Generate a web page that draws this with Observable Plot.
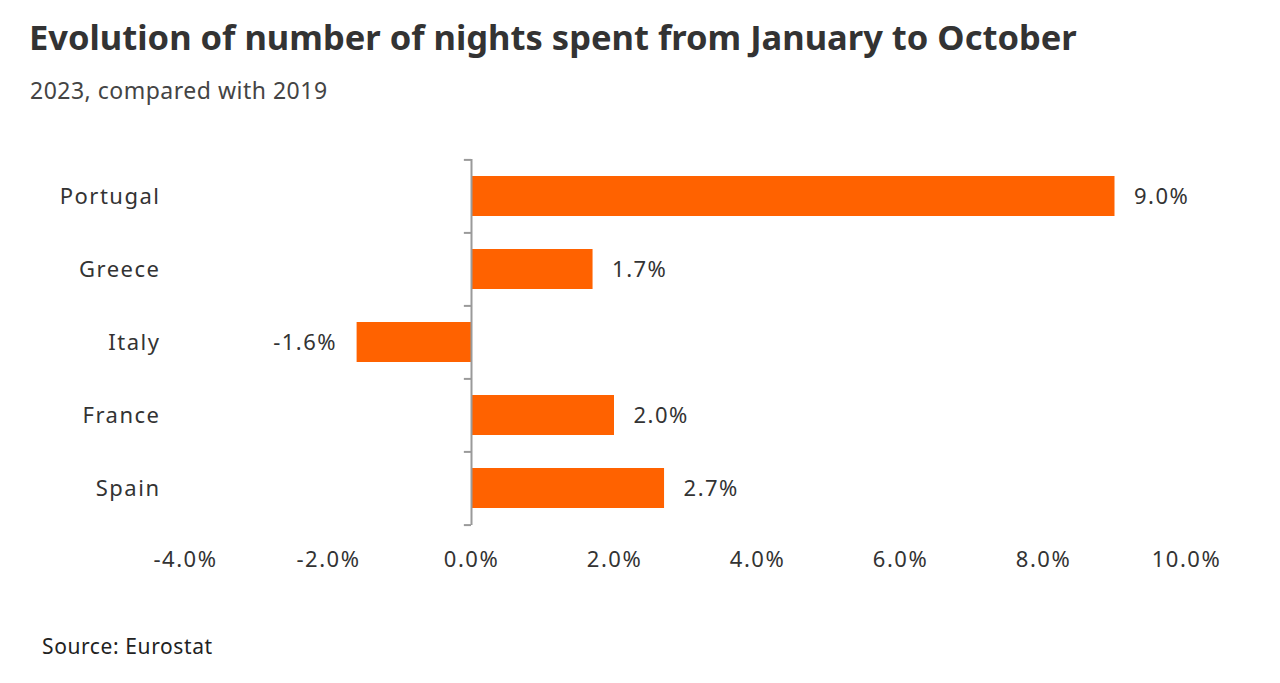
<!DOCTYPE html>
<html>
<head>
<meta charset="utf-8">
<script src="https://cdn.jsdelivr.net/npm/d3@7"></script>
<script src="https://cdn.jsdelivr.net/npm/@observablehq/plot@0.6"></script>
<style>
  html, body { margin: 0; padding: 0; background: #fff; }
  body { width: 1280px; height: 683px; position: relative; overflow: hidden; font-family: "Noto Sans", sans-serif; color: #333; }
  #title { position: absolute; left: 29px; top: 13px; font-size: 34.5px; font-weight: bold; color: #333; white-space: nowrap; }
  #subtitle { position: absolute; left: 30px; top: 74px; font-size: 23px; letter-spacing: 0.5px; color: #444; white-space: nowrap; }
  #chart { position: absolute; left: 0; top: 131px; }
  #source { position: absolute; left: 42px; top: 632px; font-size: 21px; letter-spacing: 0.6px; color: #222; white-space: nowrap; }
  #chart svg { letter-spacing: 1.5px; }
</style>
</head>
<body>
<div id="title">Evolution of number of nights spent from January to October</div>
<div id="subtitle">2023, compared with 2019</div>
<div id="chart"></div>
<div id="source">Source: Eurostat</div>
<script>
const countries = ["Portugal", "Greece", "Italy", "France", "Spain"];
const values = [9.0, 1.7, -1.6, 2.0, 2.7];
const xTicks = [-4, -2, 0, 2, 4, 6, 8, 10];

const data = countries.map((c, i) => ({country: c, value: values[i]}));
const fmt = v => v.toFixed(1) + "%";
const step = 366 / 5;

const chart = Plot.plot({
  width: 1280,
  height: 460,
  marginLeft: 185,
  marginRight: 94,
  marginTop: 28,
  marginBottom: 66,
  style: {fontFamily: "Noto Sans, sans-serif", fontSize: "22px", color: "#333", background: "#fff"},
  x: {domain: [-4, 10], label: null},
  y: {domain: countries, paddingInner: 0.45, paddingOuter: 0.225, label: null},
  marks: [
    Plot.barX(data, {x: "value", y: "country", fill: "#FF6200"}),
    Plot.ruleX([0], {stroke: "#9a9a9a", strokeWidth: 2}),
    Plot.ruleY(countries, {y: d => d, x1: -0.1, x2: 0, dy: -step / 2, stroke: "#9a9a9a", strokeWidth: 2}),
    Plot.ruleY([countries[countries.length - 1]], {y: d => d, x1: -0.1, x2: 0, dy: step / 2, stroke: "#9a9a9a", strokeWidth: 2}),
    Plot.text(data, {
      x: "value", y: "country", text: d => fmt(d.value),
      textAnchor: "start",
      filter: d => d.value >= 0,
      dx: 19, fill: "#333", fontSize: 22
    }),
    Plot.text(data, {
      x: "value", y: "country", text: d => fmt(d.value),
      textAnchor: "end",
      filter: d => d.value < 0,
      dx: -20, fill: "#333", fontSize: 22
    }),
    Plot.axisX({ticks: xTicks, tickFormat: fmt, tickSize: 0, tickPadding: 26, fontSize: 22, color: "#333", label: null}),
    Plot.axisY({tickSize: 0, tickPadding: 25, fontSize: 22, color: "#333", label: null})
  ]
});
document.getElementById("chart").appendChild(chart);
</script>
</body>
</html>
